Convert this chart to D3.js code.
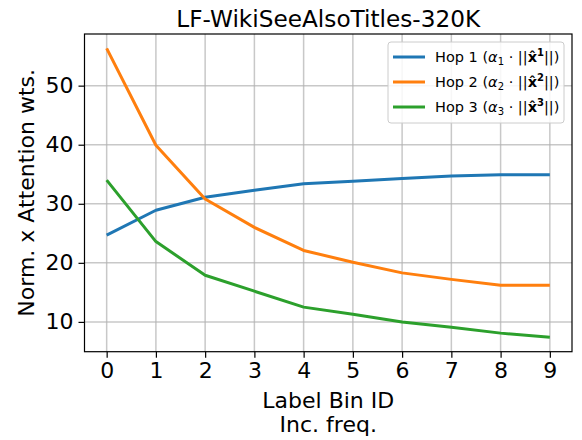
<!DOCTYPE html>
<html><head><meta charset="utf-8">
<script src="https://cdn.jsdelivr.net/npm/d3@7"></script>
<style>body{margin:0;background:#fff}svg{font-family:"DejaVu Sans",sans-serif}</style>
</head><body><svg id="c" width="582" height="440"></svg>
<script>
const bins = [0,1,2,3,4,5,6,7,8,9];
const hop1 = [24.7,28.9,31.1,32.3,33.4,33.8,34.3,34.7,34.9,34.9];
const hop2 = [56.3,39.9,30.8,26.0,22.1,20.1,18.3,17.2,16.2,16.2];
const hop3 = [34.0,23.6,17.9,15.2,12.5,11.3,10.0,9.1,8.1,7.4];
const yTicks = [10,20,30,40,50];
const seriesNames = ["1","2","3"];
const colors = ["#1f77b4","#ff7f0e","#2ca02c"];
const title = "LF-WikiSeeAlsoTitles-320K";

const svg = d3.select("#c");
const L=84.5, R=572, T=34, B=351.7;
const all = hop1.concat(hop2, hop3);
const ymin = d3.min(all), ymax = d3.max(all), pad=(ymax-ymin)*0.05;
const x = d3.scaleLinear().domain([-0.45, 9.45]).range([L,R]);
const y = d3.scaleLinear().domain([ymin-pad, ymax+pad]).range([B,T]);

// grid
const g = svg.append("g");
g.selectAll(".gx").data(bins).join("line").attr("x1",d=>x(d)).attr("x2",d=>x(d)).attr("y1",T).attr("y2",B)
 .attr("stroke","#b0b0b0").attr("stroke-opacity",0.7).attr("stroke-width",1.5);
g.selectAll(".gy").data(yTicks).join("line").attr("y1",d=>y(d)).attr("y2",d=>y(d)).attr("x1",L).attr("x2",R)
 .attr("stroke","#b0b0b0").attr("stroke-opacity",0.7).attr("stroke-width",1.5);

// axes
const xa = svg.append("g").attr("transform",`translate(0,${B})`).call(d3.axisBottom(x).tickValues(bins).tickSize(6).tickPadding(5).tickFormat(d3.format("d")));
const ya = svg.append("g").attr("transform",`translate(${L},0)`).call(d3.axisLeft(y).tickValues(yTicks).tickSize(6).tickPadding(5));
[xa,ya].forEach(a=>{a.select(".domain").remove();a.selectAll("text").attr("font-size",22).attr("font-family","DejaVu Sans").attr("fill","#000");a.selectAll("line").attr("stroke","#000").attr("stroke-width",1.2);});

// lines
const line = d3.line().x((d,i)=>x(bins[i])).y(d=>y(d));
[hop1,hop2,hop3].forEach((s,i)=>{
  svg.append("path").datum(s).attr("d",line).attr("fill","none").attr("stroke",colors[i]).attr("stroke-width",3).attr("stroke-linejoin","round");
});

// frame
svg.append("rect").attr("x",L).attr("y",T).attr("width",R-L).attr("height",B-T).attr("fill","none").attr("stroke","#000").attr("stroke-width",1.2);

// title & labels
svg.append("text").attr("x",(L+R)/2).attr("y",27).attr("text-anchor","middle").attr("font-size",23.2).text(title);
svg.append("text").attr("x",(L+R)/2).attr("y",408).attr("text-anchor","middle").attr("font-size",22).text("Label Bin ID");
svg.append("text").attr("x",(L+R)/2).attr("y",432).attr("text-anchor","middle").attr("font-size",22).text("Inc. freq.");
svg.append("text").attr("transform",`translate(34,${(T+B)/2}) rotate(-90)`).attr("text-anchor","middle").attr("font-size",22).text("Norm. x Attention wts.");

// legend
const lg = svg.append("g");
lg.append("rect").attr("x",388).attr("y",42).attr("width",176).attr("height",81).attr("rx",3)
  .attr("fill","#fff").attr("fill-opacity",0.85).attr("stroke","#cccccc").attr("stroke-width",1);
seriesNames.forEach((n,i)=>{
  const yy = 57 + i*25;
  lg.append("line").attr("x1",393).attr("x2",425).attr("y1",yy).attr("y2",yy).attr("stroke",colors[i]).attr("stroke-width",3);
  const t = lg.append("text").attr("x",435).attr("y",yy+5).attr("font-size",14.5);
  t.append("tspan").text(`Hop ${n} (`);
  t.append("tspan").attr("font-style","italic").text("\u03b1");
  t.append("tspan").attr("font-size",10).attr("dy",3).text(n);
  t.append("tspan").attr("dy",-3).text(" \u00b7 ||");
  t.append("tspan").attr("font-weight","bold").text("x\u0302");
  t.append("tspan").attr("font-weight","bold").attr("font-size",10).attr("dy",-6).text(n);
  t.append("tspan").attr("dy",6).text("||)");
});
</script></body></html>
